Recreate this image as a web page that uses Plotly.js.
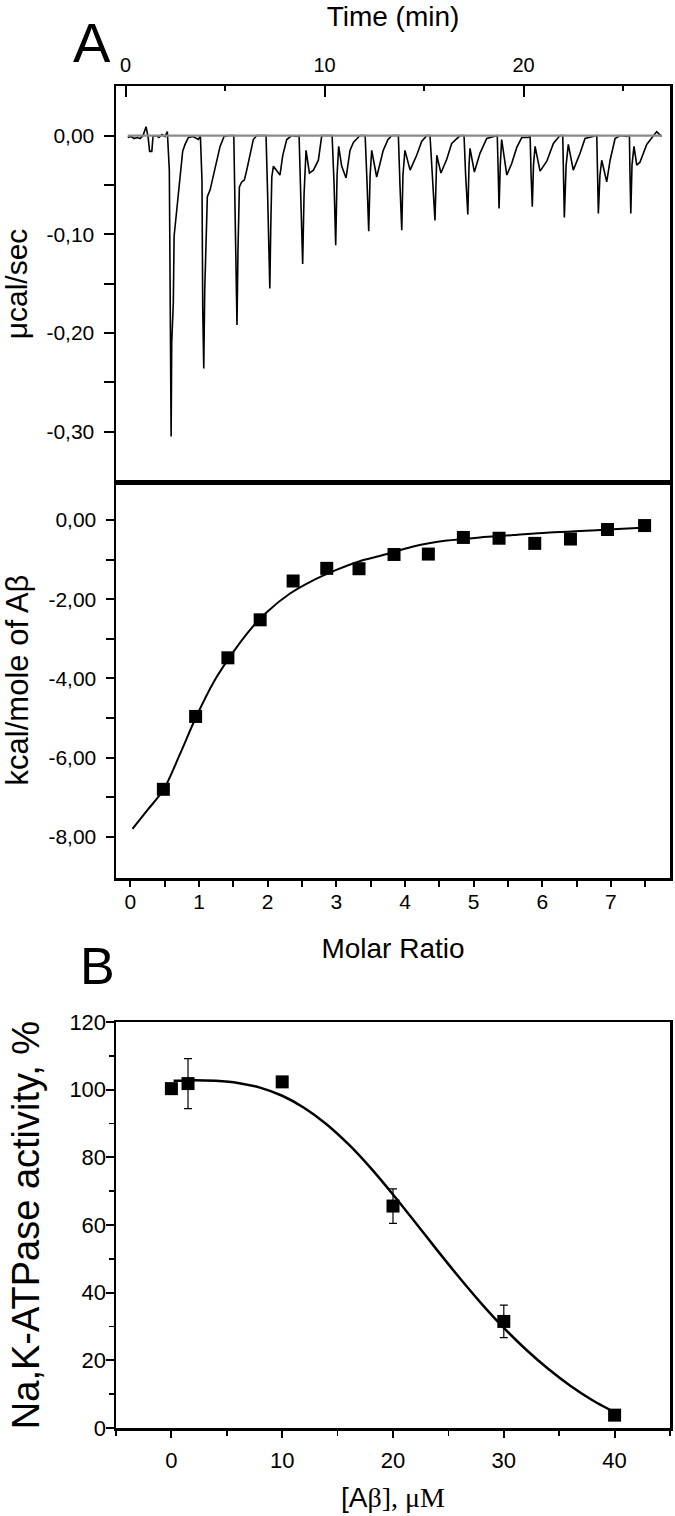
<!DOCTYPE html>
<html>
<head>
<meta charset="utf-8">
<script src="https://cdn.plot.ly/plotly-3.0.1.min.js"></script>
<style>html,body{margin:0;padding:0;background:#fff;}#chart{width:675px;height:1516px;}</style>
</head>
<body>
<div id="chart"></div>
<script>
// ---------- Panel A (top): raw ITC thermogram ----------
const timeMin = [0.11,0.28,0.43,0.58,0.73,0.88,1.03,1.13,1.21,1.32,1.38,1.53,1.68,1.83,1.98,2.10,
2.20,2.24,2.29,2.32,2.40,2.44,2.57,2.74,2.87,2.99,3.16,3.39,3.58,3.66,3.76,
3.84,3.88,3.93,3.98,4.05,4.11,4.25,4.41,4.58,4.75,4.95,5.20,5.44,
5.50,5.55,5.60,5.65,5.72,5.84,5.97,6.09,6.26,6.42,6.59,6.86,7.06,
7.14,7.25,7.30,7.35,7.43,7.60,7.76,7.90,8.10,8.35,8.57,8.72,
8.79,8.90,8.97,9.07,9.24,9.44,9.69,9.86,10.08,10.38,
10.48,10.56,10.63,10.71,10.86,11.08,11.28,11.45,11.78,12.04,
12.14,12.22,12.29,12.37,12.62,12.95,13.19,13.38,13.54,13.71,
13.79,13.88,13.94,14.04,14.30,14.63,14.88,15.14,15.30,
15.43,15.55,15.64,15.85,16.14,16.39,16.81,17.01,
17.09,17.20,17.26,17.31,17.53,17.81,18.15,18.57,18.68,
18.73,18.77,18.83,18.90,19.16,19.41,19.66,19.91,20.23,20.33,
20.38,20.44,20.50,20.58,20.83,21.17,21.50,21.83,21.97,
22.01,22.05,22.14,22.25,22.50,22.84,23.09,23.51,23.68,
23.72,23.76,23.84,23.93,24.18,24.35,24.60,24.85,25.19,25.32,
25.35,25.39,25.45,25.55,25.69,25.85,26.19,26.44,26.69,26.94];
const powerUcalSec = [-0.002,-0.001,-0.003,-0.002,-0.003,0.000,0.009,-0.001,-0.016,-0.016,-0.001,0.000,-0.002,0.001,-0.001,0.004,
-0.035,-0.133,-0.305,-0.210,-0.170,-0.102,-0.075,-0.042,-0.016,-0.009,-0.002,-0.001,-0.003,-0.004,0.000,
-0.045,-0.177,-0.236,-0.156,-0.085,-0.062,-0.055,-0.040,-0.025,-0.011,-0.001,0.000,0.000,
-0.062,-0.119,-0.192,-0.116,-0.052,-0.047,-0.045,-0.035,-0.018,-0.004,0.000,0.000,0.000,
-0.060,-0.155,-0.090,-0.042,-0.031,-0.036,-0.040,-0.020,-0.004,0.000,-0.001,0.000,
-0.060,-0.130,-0.060,-0.015,-0.038,-0.035,-0.025,0.000,0.000,0.000,
-0.050,-0.111,-0.040,-0.011,-0.031,-0.043,-0.015,-0.007,0.000,0.000,
-0.050,-0.097,-0.040,-0.015,-0.042,-0.015,-0.004,0.000,0.000,0.000,
-0.050,-0.096,-0.040,-0.015,-0.035,-0.020,-0.006,0.000,0.000,
-0.040,-0.086,-0.020,-0.038,-0.024,-0.008,0.000,0.000,
-0.040,-0.080,-0.030,-0.013,-0.037,-0.018,-0.003,0.000,0.000,
-0.040,-0.074,-0.030,-0.004,-0.040,-0.028,-0.012,-0.002,-0.002,0.000,
-0.040,-0.072,-0.030,-0.011,-0.036,-0.026,-0.008,0.000,0.000,
-0.040,-0.083,-0.030,-0.009,-0.035,-0.018,-0.003,-0.001,0.000,
-0.040,-0.079,-0.040,-0.025,-0.047,-0.025,-0.003,0.000,-0.001,0.000,
-0.040,-0.079,-0.030,-0.011,-0.030,-0.027,-0.009,-0.002,0.004,-0.001];
const baselineTime = [0.11, 26.95];
const baselinePower = [0, 0];
const powerTickVals = [0,-0.05,-0.10,-0.15,-0.20,-0.25,-0.30];
const powerTickText = ['0,00','','-0,10','','-0,20','','-0,30'];

// ---------- Panel A (bottom): integrated heats ----------
const molarRatio = [0.48,0.95,1.42,1.89,2.37,2.86,3.33,3.84,4.34,4.85,5.37,5.89,6.41,6.95,7.49];
const heatKcal = [-6.80,-4.96,-3.48,-2.52,-1.54,-1.22,-1.23,-0.87,-0.86,-0.44,-0.46,-0.59,-0.48,-0.24,-0.14];
const fitRatio = [0.03,0.25,0.48,0.72,0.95,1.23,1.50,1.74,1.99,2.33,2.62,3.00,3.34,3.63,4.12,4.61,5.09,5.58,6.06,6.55,7.03,7.52];
const fitHeat = [-7.80,-7.32,-6.82,-5.92,-5.00,-4.04,-3.33,-2.78,-2.32,-1.85,-1.56,-1.26,-1.04,-0.91,-0.67,-0.52,-0.44,-0.38,-0.32,-0.28,-0.235,-0.19];
const heatTickVals = [0,-1,-2,-3,-4,-5,-6,-7,-8];
const heatTickText = ['0,00','','-2,00','','-4,00','','-6,00','','-8,00'];
const ratioTickVals = [0,0.5,1,1.5,2,2.5,3,3.5,4,4.5,5,5.5,6,6.5,7,7.5];
const ratioTickText = ['0','','1','','2','','3','','4','','5','','6','','7',''];

// ---------- Panel B: Na,K-ATPase activity ----------
const abetaConc = [0, 1.5, 10, 20, 30, 40];
const activityPct = [100.3, 101.8, 102.3, 65.6, 31.5, 3.8];
const activityErr = [0, 7.4, 1.5, 5.1, 4.8, 0.8];
const fitConc = [0.2,2,4,6,8,10,12,14,16,18,20,22,24,26,28,30,32,34,36,38,40];
const fitActivity = [102.6,102.8,102.6,102.0,100.6,98.2,94.6,89.8,83.8,76.8,69.0,60.8,52.5,44.4,36.7,29.6,23.2,17.5,12.5,8.2,4.6];

const FONT = 'Liberation Sans, Arial, Helvetica, sans-serif';
const SERIF = 'Liberation Serif, Times New Roman, serif';
const W = 675, H = 1516;
const px = v => v / W;
const py = v => 1 - v / H;
const xDom = [px(116), px(670)];
const domTop = [py(482), py(86)];
const domMid = [py(878), py(482)];
const domB = [py(1428), py(1022)];

const lineStyle = {showline: true, linecolor: '#000', linewidth: 2.5, showgrid: false, zeroline: false,
  tickcolor: '#000', tickwidth: 2};

const traces = [
  {type: 'scatter', mode: 'lines', x: timeMin, y: powerUcalSec, xaxis: 'x', yaxis: 'y',
   line: {color: '#000', width: 1.6}, showlegend: false, hoverinfo: 'skip'},
  {type: 'scatter', mode: 'lines', x: baselineTime, y: baselinePower, xaxis: 'x', yaxis: 'y',
   line: {color: '#8a8a8a', width: 2.2}, showlegend: false, hoverinfo: 'skip'},
  {type: 'scatter', mode: 'lines', x: fitRatio, y: fitHeat, xaxis: 'x2', yaxis: 'y2',
   line: {color: '#000', width: 2, shape: 'spline', smoothing: 0.8}, showlegend: false},
  {type: 'scatter', mode: 'markers', x: molarRatio, y: heatKcal, xaxis: 'x2', yaxis: 'y2',
   marker: {symbol: 'square', size: 13, color: '#000'}, showlegend: false},
  {type: 'scatter', mode: 'lines', x: fitConc, y: fitActivity, xaxis: 'x5', yaxis: 'y5',
   line: {color: '#000', width: 2.5, shape: 'spline', smoothing: 0.6}, showlegend: false},
  {type: 'scatter', mode: 'markers', x: abetaConc, y: activityPct, xaxis: 'x5', yaxis: 'y5',
   marker: {symbol: 'square', size: 13, color: '#000'},
   error_y: {type: 'data', array: activityErr, visible: true, color: '#000', thickness: 1.2, width: 4},
   showlegend: false}
];

const layout = {
  width: W, height: H,
  margin: {l: 0, r: 0, t: 0, b: 0},
  paper_bgcolor: '#fff', plot_bgcolor: 'rgba(0,0,0,0)',
  font: {family: FONT, color: '#000', size: 20},
  showlegend: false,
  // Top panel A: thermogram
  xaxis: Object.assign({}, lineStyle, {
    domain: xDom, anchor: 'y', side: 'top', mirror: true,
    range: [-0.48, 27.36], tickmode: 'linear', tick0: 0, dtick: 10,
    ticks: 'inside', ticklen: 11, ticklabelstandoff: 4,
    minor: {dtick: 5, tick0: 0, ticks: 'inside', ticklen: 5, tickwidth: 2, tickcolor: '#000'},
    tickfont: {size: 20},
    title: {text: 'Time (min)', font: {size: 28}, standoff: 19}
  }),
  yaxis: Object.assign({}, lineStyle, {
    domain: domTop, anchor: 'x', mirror: true,
    range: [-0.351, 0.0502], tickmode: 'array', tickvals: powerTickVals, ticktext: powerTickText,
    ticks: 'outside', ticklen: 10, ticklabelstandoff: 5, tickfont: {size: 21},
    title: {text: 'μcal/sec', font: {size: 30}, standoff: 13}
  }),
  yaxis3: {
    overlaying: 'y', anchor: 'x', side: 'right', range: [-0.351, 0.0502],
    tickmode: 'array', tickvals: powerTickVals, ticks: 'inside', ticklen: 10, tickwidth: 2, tickcolor: '#000',
    showticklabels: false, showline: false, showgrid: false, zeroline: false
  },
  // Middle panel A: integrated heats
  xaxis2: Object.assign({}, lineStyle, {
    domain: xDom, anchor: 'y2', mirror: true,
    range: [-0.21, 7.86], tickmode: 'array', tickvals: ratioTickVals, ticktext: ratioTickText,
    ticks: 'outside', ticklen: 6, ticklabelstandoff: -3, tickfont: {size: 21},
    title: {text: 'Molar Ratio', font: {size: 28}, standoff: 27}
  }),
  xaxis3: {
    overlaying: 'x2', anchor: 'y2', side: 'top', range: [-0.21, 7.86],
    tickmode: 'array', tickvals: ratioTickVals, ticks: 'inside', ticklen: 11, tickwidth: 2, tickcolor: '#000',
    showticklabels: false, showline: false, showgrid: false, zeroline: false
  },
  yaxis2: Object.assign({}, lineStyle, {
    domain: domMid, anchor: 'x2', mirror: true,
    range: [-9.04, 0.96], tickmode: 'array', tickvals: heatTickVals, ticktext: heatTickText,
    ticks: 'outside', ticklen: 8, ticklabelstandoff: 5, tickfont: {size: 21},
    title: {text: 'kcal/mole of Aβ', font: {size: 31}, standoff: 13}
  }),
  yaxis4: {
    overlaying: 'y2', anchor: 'x2', side: 'right', range: [-9.04, 0.96],
    tickmode: 'array', tickvals: heatTickVals, ticks: 'inside', ticklen: 10, tickwidth: 2, tickcolor: '#000',
    showticklabels: false, showline: false, showgrid: false, zeroline: false
  },
  // Panel B
  xaxis5: Object.assign({}, lineStyle, {
    domain: xDom, anchor: 'y5', mirror: true,
    range: [-5, 45], tickmode: 'linear', tick0: 0, dtick: 10,
    ticks: 'outside', ticklen: 7, ticklabelstandoff: 4, tickfont: {size: 22},
    minor: {dtick: 5, tick0: 0, ticks: 'outside', ticklen: 5, tickwidth: 1.5, tickcolor: '#000'},
    title: {text: '[A<span style="font-family:' + SERIF + '">β], μM</span>', font: {size: 28}, standoff: 16}
  }),
  yaxis5: Object.assign({}, lineStyle, {
    domain: domB, anchor: 'x5', mirror: true,
    range: [0, 120], tickmode: 'linear', tick0: 0, dtick: 20,
    ticks: 'outside', ticklen: 8, ticklabelstandoff: -5, tickfont: {size: 22},
    minor: {dtick: 10, tick0: 0, ticks: 'outside', ticklen: 5, tickwidth: 1.5, tickcolor: '#000'},
    title: {text: 'Na,K-ATPase activity, %', font: {size: 38}, standoff: 18}
  }),
  annotations: [
    {text: 'A', xref: 'paper', yref: 'paper', x: px(92), y: py(43), xanchor: 'center', yanchor: 'middle',
     showarrow: false, font: {size: 56, family: FONT, color: '#000'}},
    {text: 'B', xref: 'paper', yref: 'paper', x: px(97), y: py(966), xanchor: 'center', yanchor: 'middle',
     showarrow: false, font: {size: 52, family: FONT, color: '#000'}}
  ]
};

Plotly.newPlot('chart', traces, layout, {displayModeBar: false, staticPlot: true});
</script>
</body>
</html>
